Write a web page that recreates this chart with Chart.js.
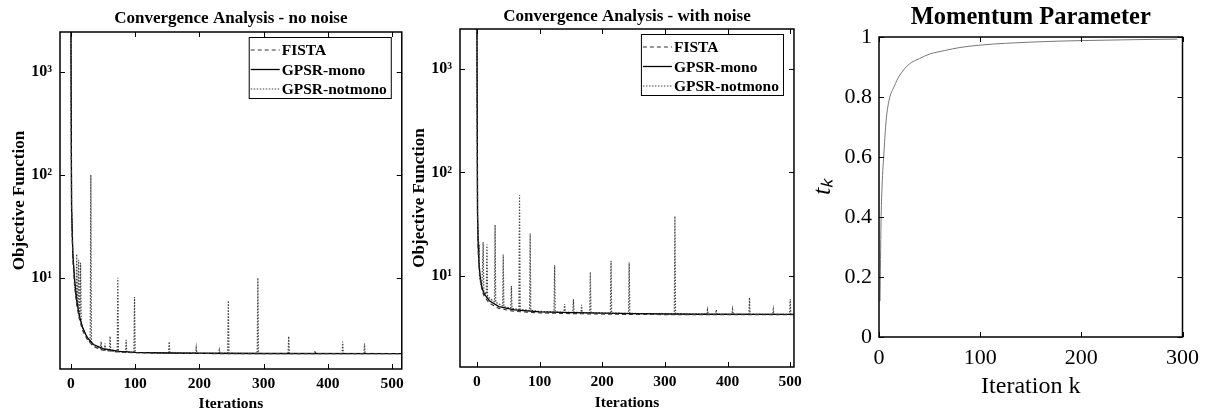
<!DOCTYPE html>
<html>
<head>
<meta charset="utf-8">
<script src="https://cdn.jsdelivr.net/npm/chart.js@4.4.1/dist/chart.umd.min.js"></script>
<style>
  html, body { margin: 0; padding: 0; background: #fff; }
  body { width: 1207px; height: 417px; position: relative; overflow: hidden; }
  canvas { position: absolute; top: 0; }
</style>
</head>
<body>
<canvas id="noNoise" width="410" height="417" style="left:0px"></canvas>
<canvas id="withNoise" width="400" height="417" style="left:408px"></canvas>
<canvas id="momentum" width="399" height="417" style="left:808px"></canvas>
<script>
// ── Data ──────────────────────────────────────────────────────────────────

const seriesNames = ['FISTA', 'GPSR-mono', 'GPSR-notmono'];

const logTickValues = [10, 100, 1000];
const logTickLabels = ['10¹', '10²', '10³'];
const iterTickValues = [0, 100, 200, 300, 400, 500];

// no noise
const nnIter  = [0, 1, 3, 6, 9, 13, 18, 25, 35, 50, 75, 100, 150, 200, 300, 515];
const nnFista = [3000, 45, 15, 8, 5.5, 4.0, 3.1, 2.55, 2.15, 1.98, 1.9, 1.87, 1.85, 1.84, 1.83, 1.83];
const nnMono  = [3000, 50, 17, 9, 6, 4.3, 3.3, 2.65, 2.25, 2.05, 1.93, 1.89, 1.86, 1.85, 1.84, 1.83];
const nnNotIter = [0, 1, 3, 6, 8, 9, 10, 11, 12, 13, 14, 15, 16, 18, 22, 25, 29, 30, 31, 32,
  40, 46, 47, 48, 52, 53, 54, 60, 61, 62, 72, 73, 74, 85, 86, 87, 98, 99, 100, 120,
  152, 153, 154, 194, 195, 196, 230, 231, 232, 244, 245, 246, 290, 291, 292,
  338, 339, 340, 379, 380, 381, 422, 423, 424, 456, 457, 458, 515];
const nnNotVal = [3000, 45, 17, 9, 6.5, 17, 5.8, 5.2, 15, 4.6, 4.3, 14, 3.8, 3.3, 2.9, 2.7, 2.4, 2.35, 100, 2.3,
  2.15, 2.05, 2.4, 2.0, 2.0, 2.3, 1.98, 1.95, 2.7, 1.94, 1.92, 10, 1.91, 1.9, 2.5, 1.89, 1.88, 6.5, 1.88, 1.87,
  1.86, 2.4, 1.86, 1.85, 2.1, 1.85, 1.85, 2.0, 1.85, 1.85, 6, 1.85, 1.84, 10, 1.84,
  1.84, 2.7, 1.84, 1.84, 1.95, 1.84, 1.84, 2.4, 1.84, 1.84, 2.3, 1.84, 1.84];

// with noise
const wnIter  = [0, 1, 2, 3, 5, 8, 12, 20, 35, 60, 100, 150, 250, 350, 506];
const wnFista = [3000, 35, 18, 13, 9.5, 7.2, 6.2, 5.4, 4.8, 4.5, 4.35, 4.28, 4.2, 4.18, 4.17];
const wnMono  = [3000, 40, 20, 14, 10, 7.6, 6.6, 5.7, 5.0, 4.65, 4.45, 4.38, 4.28, 4.22, 4.2];
const wnNotIter = [0, 1, 2, 3, 4, 5, 8, 10, 11, 15, 16, 17, 22, 28, 29, 30, 41, 42, 43, 54, 55, 56,
  67, 68, 69, 84, 85, 86, 100, 123, 124, 125, 139, 140, 141, 153, 154, 155, 166, 167, 168,
  180, 181, 182, 213, 214, 215, 242, 243, 244, 315, 316, 317, 367, 368, 369, 381, 382, 383,
  407, 408, 409, 434, 435, 436, 472, 473, 474, 499, 500, 501, 506];
const wnNotVal = [3000, 40, 22, 21, 10, 9, 7.5, 21, 7, 6.6, 20, 6.3, 5.9, 5.6, 31, 5.5, 5.1, 16, 5.0, 4.85, 7.9, 4.8,
  4.7, 60, 4.7, 4.6, 25.6, 4.6, 4.5, 4.45, 12.6, 4.45, 4.4, 5.3, 4.4, 4.4, 5.9, 4.4, 4.38, 5.2, 4.38,
  4.35, 10.8, 4.35, 4.33, 13.9, 4.33, 4.3, 13.4, 4.3, 4.25, 37.7, 4.25, 4.22, 4.66, 4.22, 4.22, 4.66, 4.22,
  4.2, 4.7, 4.2, 4.2, 6.1, 4.2, 4.2, 4.7, 4.2, 4.2, 5.9, 4.2, 4.2];

// momentum parameter
const momIter = [1, 2, 3, 5, 7, 10, 15, 20, 30, 40, 50, 65, 80, 100, 125, 150, 175, 200, 250, 295];
const momT    = [0.12, 0.38, 0.5, 0.62, 0.72, 0.79, 0.835, 0.87, 0.91, 0.928, 0.943, 0.955, 0.965, 0.973,
  0.979, 0.983, 0.986, 0.988, 0.991, 0.993];
const momXTicks = [0, 100, 200, 300];
const momYTicks = [0, 0.2, 0.4, 0.6, 0.8, 1];
const momYLabels = ['0', '0.2', '0.4', '0.6', '0.8', '1'];

// ── Helpers ───────────────────────────────────────────────────────────────

const SERIF = '"Liberation Serif", "Times New Roman", serif';
const pts = (xs, ys) => xs.map((x, i) => ({ x, y: ys[i] }));

// MATLAB-style box with inward ticks
const frameTicks = {
    id: 'frameTicks',
    afterDatasetsDraw(chart) {
        const { ctx, chartArea: a, scales } = chart;
        ctx.save();
        ctx.strokeStyle = '#000';
        ctx.lineWidth = 1;
        ctx.beginPath();
        scales.x.ticks.forEach(t => {
            const px = Math.round(scales.x.getPixelForValue(t.value)) + 0.5;
            ctx.moveTo(px, a.bottom); ctx.lineTo(px, a.bottom - 5);
            ctx.moveTo(px, a.top); ctx.lineTo(px, a.top + 5);
        });
        scales.y.ticks.forEach(t => {
            const py = Math.round(scales.y.getPixelForValue(t.value)) + 0.5;
            ctx.moveTo(a.left, py); ctx.lineTo(a.left + 5, py);
            ctx.moveTo(a.right, py); ctx.lineTo(a.right - 5, py);
        });
        ctx.stroke();
        ctx.lineWidth = 1.5;
        ctx.strokeRect(a.left, a.top, a.width, a.height);
        ctx.restore();
    },
};

// legend box in the top right corner of the plot
const boxLegend = {
    id: 'boxLegend',
    afterDraw(chart) {
        const { ctx, chartArea: a } = chart;
        const sets = chart.data.datasets;
        ctx.save();
        ctx.font = `bold 15.5px ${SERIF}`;
        const textW = Math.max(...sets.map(d => ctx.measureText(d.label).width));
        const w = 33 + textW + 4, h = 61;
        const left = a.right - 11 - w, top = a.top + 5;
        ctx.fillStyle = '#fff';
        ctx.fillRect(left, top, w, h);
        ctx.strokeStyle = '#000';
        ctx.lineWidth = 1;
        ctx.strokeRect(left + 0.5, top + 0.5, w, h);
        sets.forEach((d, i) => {
            const cy = top + 13 + i * 19.5;
            ctx.strokeStyle = d.borderColor;
            ctx.lineWidth = d.borderWidth;
            ctx.setLineDash(d.borderDash || []);
            ctx.beginPath();
            ctx.moveTo(left + 2, cy); ctx.lineTo(left + 31, cy);
            ctx.stroke();
            ctx.setLineDash([]);
            ctx.fillStyle = '#000';
            ctx.textBaseline = 'middle';
            ctx.fillText(d.label, left + 33, cy + 1);
        });
        ctx.restore();
    },
};

function drawConvergence(id, title, o) {
    new Chart(document.getElementById(id), {
        type: 'line',
        data: {
            datasets: [
                { label: seriesNames[0], data: pts(o.iter, o.fista), borderColor: '#333', borderWidth: 1.2, borderDash: [4, 3] },
                { label: seriesNames[1], data: pts(o.iter, o.mono), borderColor: '#000', borderWidth: 1.3 },
                { label: seriesNames[2], data: pts(o.notIter, o.notVal), borderColor: '#444', borderWidth: 1.2, borderDash: [1.5, 1.5] },
            ],
        },
        options: {
            responsive: false,
            animation: false,
            events: [],
            elements: { point: { radius: 0 }, line: { tension: 0 } },
            layout: { padding: { left: 0, right: o.padRight, top: 0, bottom: 0 } },
            plugins: {
                legend: { display: false },
                tooltip: { enabled: false },
                title: {
                    display: true, text: title, color: '#000', fullSize: false,
                    font: { family: SERIF, size: 17, weight: 'bold', lineHeight: 1.2 },
                    padding: { top: o.titleTop, bottom: o.titleBottom },
                },
            },
            scales: {
                x: {
                    type: 'linear', min: o.xMin, max: o.xMax,
                    grid: { display: false, drawTicks: false },
                    border: { display: false },
                    afterBuildTicks: s => { s.ticks = iterTickValues.map(v => ({ value: v })); },
                    afterFit: s => { s.height = o.xHeight; },
                    ticks: { color: '#000', padding: 6, maxRotation: 0, autoSkip: false,
                        font: { family: SERIF, size: 15.5, weight: 'bold' } },
                    title: { display: true, text: 'Iterations', color: '#000',
                        font: { family: SERIF, size: 15.5, weight: 'bold', lineHeight: 1.2 },
                        padding: { top: 0, bottom: o.xTitleBottom } },
                },
                y: {
                    type: 'logarithmic', min: 1.3, max: 2450,
                    grid: { display: false, drawTicks: false },
                    border: { display: false },
                    afterBuildTicks: s => { s.ticks = logTickValues.map(v => ({ value: v })); },
                    afterFit: s => { s.width = o.yWidth; },
                    ticks: { color: '#000', padding: 8, autoSkip: false,
                        callback: v => logTickLabels[logTickValues.indexOf(v)],
                        font: { family: SERIF, size: 16, weight: 'bold' } },
                    title: { display: true, text: 'Objective Function', color: '#000',
                        font: { family: SERIF, size: 17, weight: 'bold', lineHeight: 1.2 },
                        padding: { top: o.yTitleTop, bottom: 0 } },
                },
            },
        },
        plugins: [frameTicks, boxLegend],
    });
}

drawConvergence('noNoise', 'Convergence Analysis - no noise', {
    iter: nnIter, fista: nnFista, mono: nnMono, notIter: nnNotIter, notVal: nnNotVal,
    xMin: -17, xMax: 515, padRight: 7, titleTop: 8, titleBottom: 3.6,
    xHeight: 48, xTitleBottom: 4, yWidth: 60, yTitleTop: 9.8,
});

drawConvergence('withNoise', 'Convergence Analysis - with noise', {
    iter: wnIter, fista: wnFista, mono: wnMono, notIter: wnNotIter, notVal: wnNotVal,
    xMin: -27, xMax: 506, padRight: 6, titleTop: 6, titleBottom: 2.6,
    xHeight: 50, xTitleBottom: 5, yWidth: 52, yTitleTop: 1.8,
});

// ── Momentum parameter ────────────────────────────────────────────────────

new Chart(document.getElementById('momentum'), {
    type: 'line',
    data: {
        datasets: [{
            label: 't_k', data: pts(momIter, momT),
            borderColor: '#777', borderWidth: 1, pointRadius: 0,
            cubicInterpolationMode: 'monotone',
        }],
    },
    options: {
        responsive: false,
        animation: false,
        events: [],
        layout: { padding: { left: 0, right: 21, top: 0, bottom: 0 } },
        plugins: {
            legend: { display: false },
            tooltip: { enabled: false },
            title: {
                display: true, text: 'Momentum Parameter', color: '#000', fullSize: false,
                font: { family: SERIF, size: 24.5, weight: 'bold', lineHeight: 1.2 },
                padding: { top: 3, bottom: 4.6 },
            },
        },
        scales: {
            x: {
                type: 'linear', min: 0, max: 300,
                grid: { display: false, drawTicks: false },
                border: { display: false },
                afterBuildTicks: s => { s.ticks = momXTicks.map(v => ({ value: v })); },
                afterFit: s => { s.height = 80; },
                ticks: { color: '#000', padding: 8, maxRotation: 0, autoSkip: false,
                    font: { family: SERIF, size: 22 } },
                title: { display: true, text: 'Iteration k', color: '#000',
                    font: { family: SERIF, size: 24, lineHeight: 1.2 },
                    padding: { top: 0, bottom: 15.6 } },
            },
            y: {
                type: 'linear', min: 0, max: 1,
                grid: { display: false, drawTicks: false },
                border: { display: false },
                afterBuildTicks: s => { s.ticks = momYTicks.map(v => ({ value: v })); },
                afterFit: s => { s.width = 71; },
                ticks: { color: '#000', padding: 7, autoSkip: false,
                    callback: v => momYLabels[momYTicks.indexOf(v)],
                    font: { family: SERIF, size: 22 } },
                title: { display: true, text: 'tₖ', color: '#000',
                    font: { family: SERIF, size: 26, style: 'italic', lineHeight: 1 },
                    padding: { top: 2, bottom: 0 } },
            },
        },
    },
    plugins: [frameTicks],
});
</script>
</body>
</html>
